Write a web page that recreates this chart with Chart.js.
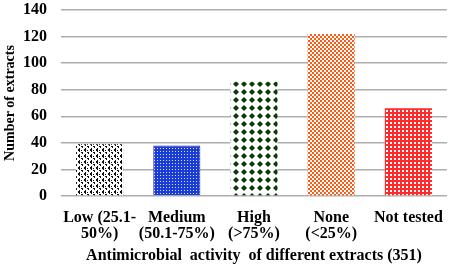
<!DOCTYPE html>
<html><head><meta charset="utf-8">
<script src="https://cdn.jsdelivr.net/npm/chart.js@4"></script>
<style>html,body{margin:0;padding:0;background:#fff}#wrap{width:454px;height:268px}</style>
</head><body><div id="wrap"><canvas id="c" width="454" height="268"></canvas></div>
<script>
const categories = [["Low (25.1-","50%)"],["Medium","(50.1-75%)"],["High","(>75%)"],["None","(<25%)"],["Not tested"]];
const counts = [39, 38, 86, 122, 66];
const yTicks = [0, 20, 40, 60, 80, 100, 120, 140];
const xTitle = "Antimicrobial  activity  of different extracts (351)";
const yTitle = "Number of extracts";

function tile(w, h, draw) {
  const c = document.createElement('canvas'); c.width = w; c.height = h;
  const g = c.getContext('2d'); draw(g);
  return g.createPattern(c, 'repeat');
}
const patLow = tile(6, 6, g => {
  g.fillStyle = '#fff'; g.fillRect(0,0,6,6);
  g.fillStyle = '#111';
  g.fillRect(0,0,2,1); g.fillRect(1,1,1,1);
  g.fillRect(3,2,2,1); g.fillRect(4,3,1,1);
  g.fillRect(1,4,1,1); g.fillRect(0,5,2,1);
  g.fillRect(3,0,1,1);
});
const patMed = tile(3, 3, g => {
  g.fillStyle = '#1a3cd6'; g.fillRect(0,0,3,3);
  g.fillStyle = '#dfe6ff'; g.fillRect(1,1,1,1);
});
const patHigh = tile(8, 8, g => {
  g.fillStyle = '#fff'; g.fillRect(0,0,8,8);
  g.fillStyle = '#0b3a0b';
  g.beginPath(); g.moveTo(4,1); g.lineTo(7,4); g.lineTo(4,7); g.lineTo(1,4); g.closePath(); g.fill();
});
const patNone = tile(4, 4, g => {
  g.fillStyle = '#fff'; g.fillRect(0,0,4,4);
  g.fillStyle = '#ff5a14'; g.fillRect(0,0,2,2); g.fillRect(2,2,2,2);
});
const patNot = tile(4, 4, g => {
  g.fillStyle = '#fff'; g.fillRect(0,0,4,4);
  g.fillStyle = '#ff2a2a'; g.fillRect(0,0,4,2); g.fillRect(0,0,2,4);
});

const font = {family: '"Liberation Serif", "Times New Roman", serif', weight: 'bold', size: 16};
new Chart(document.getElementById('c'), {
  type: 'bar',
  data: { labels: categories, datasets: [{
    data: counts,
    backgroundColor: [patLow, patMed, patHigh, patNone, patNot],
    borderColor: ['rgba(0,0,0,0)', '#1b2a8a', 'rgba(0,0,0,0)', 'rgba(0,0,0,0)', 'rgba(0,0,0,0)'],
    borderWidth: [0, 1, 0, 0, 0],
    categoryPercentage: 1, barPercentage: 0.61
  }]},
  options: {
    responsive: false, animation: false,
    layout: {padding: {left: 0, right: 7, top: 10, bottom: 3}},
    plugins: {legend: {display: false}, tooltip: {enabled: false}},
    scales: {
      x: {
        afterFit: s => { s.height = 69; s.paddingLeft = 0; s.paddingRight = 0; },
        grid: {display: false}, border: {display: false},
        ticks: {color: '#000', font: {...font, lineHeight: 1.05}, maxRotation: 0, autoSkip: false, padding: 5},
        title: {display: true, text: xTitle, color: '#000', font: font, padding: {top: 0, bottom: 0}}
      },
      y: {
        min: 0, max: 140,
        afterFit: s => { s.width = 61; s.paddingTop = 0; s.paddingBottom = 0; },
        afterBuildTicks: s => { s.ticks = yTicks.map(v => ({value: v})); },
        grid: {color: '#adadad', lineWidth: 1.5, drawTicks: false},
        border: {display: false},
        ticks: {color: '#000', font: font, padding: 14},
        title: {display: true, text: yTitle, color: '#000', font: {...font, size: 14}, padding: {top: 2, bottom: 0}}
      }
    }
  }
});
</script></body></html>
